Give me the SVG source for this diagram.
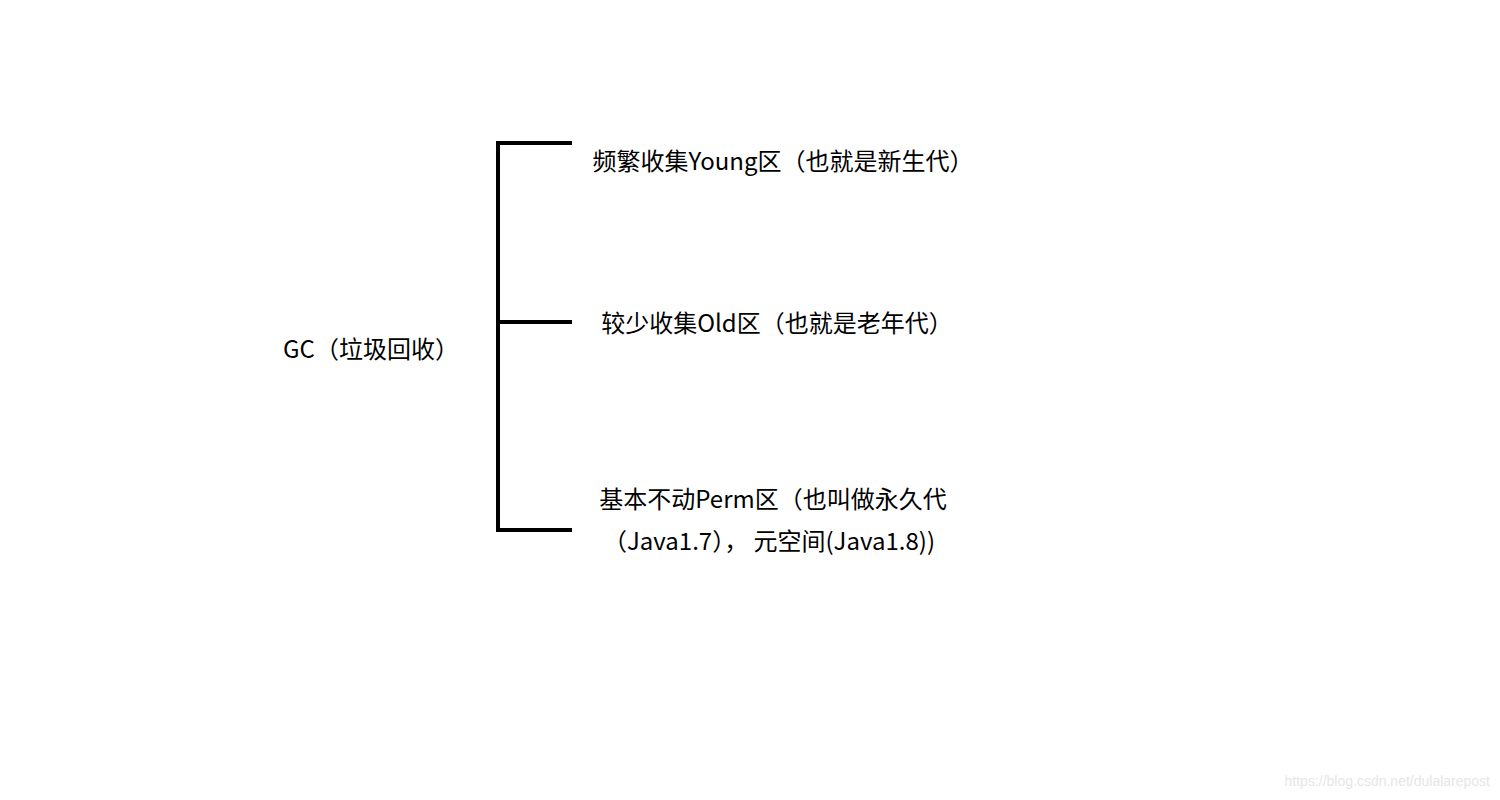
<svg xmlns="http://www.w3.org/2000/svg" width="1500" height="800" viewBox="0 0 1500 800">
<style>
.t{font-family:"Noto Sans CJK SC","Noto Sans",sans-serif;font-size:24px;fill:#000}
.ln{stroke:#000;stroke-width:4;fill:none;stroke-linecap:square}
.wm{font-family:"Liberation Sans",Arial,sans-serif;font-size:14px;fill:#e6e6e6}
</style>
<rect width="1500" height="800" fill="#fff"/>
<g id="connectors">
<path class="ln" d="M498,143 V530"/>
<path class="ln" d="M498,143 H570"/>
<path class="ln" d="M498,322 H570"/>
<path class="ln" d="M498,530 H570"/>
</g>
<g id="node-gc"><text class="t" x="371" y="358" text-anchor="middle">GC（垃圾回收）</text></g>
<g id="node-young"><text class="t" x="783" y="170" text-anchor="middle">频繁收集Young区（也就是新生代）</text></g>
<g id="node-old"><text class="t" x="777" y="332" text-anchor="middle">较少收集Old区（也就是老年代）</text></g>
<g id="node-perm"><text class="t" x="773" y="508" text-anchor="middle">基本不动Perm区（也叫做永久代</text><text class="t" x="769" y="550" text-anchor="middle" xml:space="preserve">（Java1.7）， 元空间(Java1.8))</text></g>
<text class="wm" x="1490" y="786" text-anchor="end">https://blog.csdn.net/dulalarepost</text>
</svg>
